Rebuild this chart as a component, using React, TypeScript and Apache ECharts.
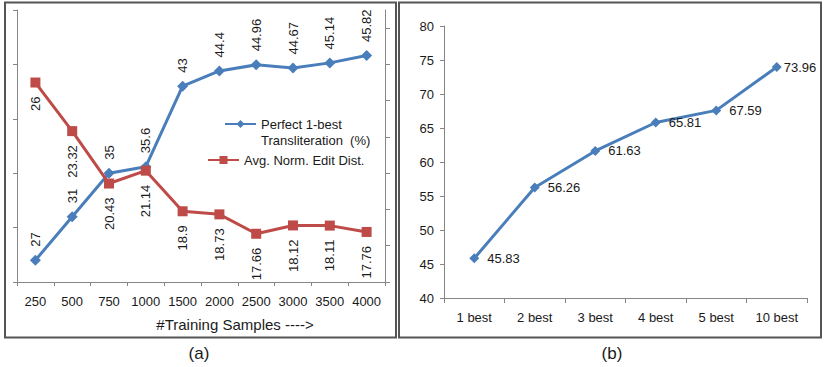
import React, { useEffect, useRef } from 'react';
import * as echarts from 'echarts';

// ---- Data ----
const samples = ['250', '500', '750', '1000', '1500', '2000', '2500', '3000', '3500', '4000'];
const perfect1Best = [27, 31, 35, 35.6, 43, 44.4, 44.96, 44.67, 45.14, 45.82];
const editDist = [26, 23.32, 20.43, 21.14, 18.9, 18.73, 17.66, 18.12, 18.11, 17.76];
const editTicks = [15, 17, 19, 21, 23, 25, 27, 29];
const nBestCats = ['1 best', '2 best', '3 best', '4 best', '5 best', '10 best'];
const nBestAcc = [45.83, 56.26, 61.63, 65.81, 67.59, 73.96];

const BLUE = '#4A7EBB';
const RED = '#BE4B48';
const AXIS = '#868686';
const TXT = '#1a1a1a';
const FONT = '"Liberation Sans", Arial, sans-serif';

export default function App() {
  const ref = useRef<HTMLDivElement>(null);
  useEffect(() => {
    if (!ref.current) return;
    const chart = echarts.init(ref.current, null, { renderer: 'svg' });
    const axisLine = { show: true, lineStyle: { color: AXIS, width: 1 } };
    const option: any = {
      animation: false,
      backgroundColor: '#ffffff',
      textStyle: { fontFamily: FONT },
      grid: [
        { left: 17, top: 10, width: 368, height: 272 },
        { left: 444, top: 26, width: 363, height: 272 },
      ],
      legend: [
        {
          data: ['Perfect 1-best Transliteration (%)'],
          left: 224,
          top: 100,
          padding: 0,
          itemWidth: 31,
          itemHeight: 10,
          formatter: () => '\nPerfect 1-best\nTransliteration  (%)',
          textStyle: { fontSize: 13, lineHeight: 16, color: TXT, fontFamily: FONT },
        },
        {
          data: ['Avg. Norm. Edit Dist.'],
          left: 207,
          top: 152,
          padding: 0,
          itemWidth: 31,
          itemHeight: 10,
          textStyle: { fontSize: 13, lineHeight: 16, color: TXT, fontFamily: FONT },
        },
      ],
      xAxis: [
        {
          type: 'category',
          gridIndex: 0,
          data: samples,
          axisLine,
          axisTick: { show: true, length: 4, lineStyle: { color: AXIS } },
          axisLabel: { interval: 0, margin: 13, fontSize: 13, color: TXT, fontFamily: FONT },
          name: '#Training Samples ---->',
          nameLocation: 'middle',
          nameGap: 35,
          nameTextStyle: { fontSize: 15, color: TXT, fontFamily: FONT, padding: [0, 0, 0, 68] },
        },
        {
          type: 'category',
          gridIndex: 1,
          data: nBestCats,
          axisLine,
          axisTick: { show: true, length: 5, lineStyle: { color: AXIS } },
          axisLabel: { interval: 0, margin: 13, fontSize: 13, color: TXT, fontFamily: FONT },
        },
      ],
      yAxis: [
        {
          type: 'value',
          gridIndex: 0,
          position: 'left',
          min: 25,
          max: 50,
          interval: 5,
          axisLine,
          axisTick: { show: true, length: 4, lineStyle: { color: AXIS } },
          axisLabel: { show: false },
          splitLine: { show: false },
        },
        {
          type: 'value',
          gridIndex: 0,
          position: 'right',
          min: 15,
          max: 30,
          axisLine,
          axisTick: { show: true, length: 5, lineStyle: { color: AXIS }, customValues: editTicks },
          axisLabel: { show: false },
          splitLine: { show: false },
        },
        {
          type: 'value',
          gridIndex: 1,
          min: 40,
          max: 80,
          interval: 5,
          axisLine,
          axisTick: { show: true, length: 4, lineStyle: { color: AXIS } },
          axisLabel: { margin: 10, fontSize: 13, color: TXT, fontFamily: FONT },
          splitLine: { show: false },
        },
      ],
      series: [
        {
          type: 'line',
          name: 'Perfect 1-best Transliteration (%)',
          xAxisIndex: 0,
          yAxisIndex: 0,
          data: perfect1Best,
          symbol: 'diamond',
          symbolSize: 11,
          lineStyle: { color: BLUE, width: 3 },
          itemStyle: { color: BLUE },
          label: {
            show: true,
            position: 'top',
            distance: 8,
            rotate: 90,
            align: 'left',
            verticalAlign: 'middle',
            fontSize: 13,
            color: TXT,
            fontFamily: FONT,
          },
        },
        {
          type: 'line',
          name: 'Avg. Norm. Edit Dist.',
          xAxisIndex: 0,
          yAxisIndex: 1,
          data: editDist,
          symbol: 'rect',
          symbolSize: 10,
          lineStyle: { color: RED, width: 3 },
          itemStyle: { color: RED },
          label: {
            show: true,
            position: 'bottom',
            distance: 9,
            rotate: 90,
            align: 'right',
            verticalAlign: 'middle',
            fontSize: 13,
            color: TXT,
            fontFamily: FONT,
          },
        },
        {
          type: 'line',
          name: 'N-best Transliteration (%)',
          xAxisIndex: 1,
          yAxisIndex: 2,
          data: nBestAcc.map((v, i) => (i === nBestAcc.length - 1 ? { value: v, label: { distance: 2 } } : v)),
          symbol: 'diamond',
          symbolSize: 10,
          lineStyle: { color: BLUE, width: 3 },
          itemStyle: { color: BLUE },
          label: {
            show: true,
            position: 'right',
            distance: 8,
            fontSize: 13,
            color: TXT,
            fontFamily: FONT,
          },
        },
      ],
      graphic: [
        {
          type: 'rect',
          shape: { x: 5, y: 2.5, width: 391, height: 335 },
          style: { fill: 'none', stroke: '#555555', lineWidth: 2 },
          silent: true,
        },
        {
          type: 'rect',
          shape: { x: 399, y: 2.5, width: 422, height: 335 },
          style: { fill: 'none', stroke: '#555555', lineWidth: 2 },
          silent: true,
        },
        {
          type: 'text',
          x: 199,
          y: 353,
          style: { text: '(a)', fontSize: 17, fill: TXT, fontFamily: FONT, align: 'center', verticalAlign: 'middle' },
        },
        {
          type: 'text',
          x: 612,
          y: 353,
          style: { text: '(b)', fontSize: 17, fill: TXT, fontFamily: FONT, align: 'center', verticalAlign: 'middle' },
        },
      ],
    };
    chart.setOption(option);
    return () => chart.dispose();
  }, []);
  return (
    <div
      ref={ref}
      style={{ position: 'fixed', left: 0, top: 0, width: 824, height: 367, background: '#fff' }}
    />
  );
}
